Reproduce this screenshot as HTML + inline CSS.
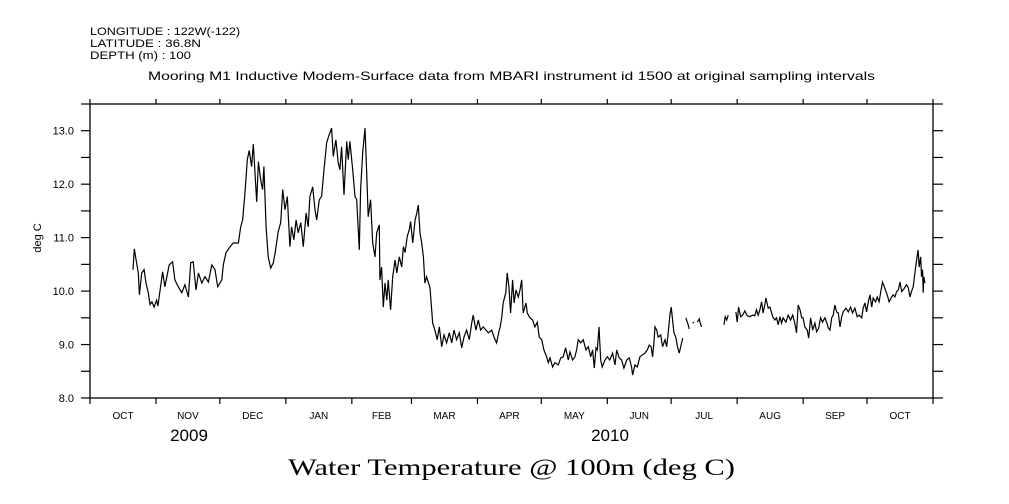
<!DOCTYPE html>
<html><head><meta charset="utf-8"><style>
body{margin:0;background:#fff;}
svg{display:block;font-family:"Liberation Sans",sans-serif;}
</style></head><body>
<svg id="chart" width="1009" height="504" viewBox="0 0 1009 504" xmlns="http://www.w3.org/2000/svg">
<rect width="1009" height="504" fill="#fff"/>
<g font-size="11" fill="#000">
<text x="90" y="35" textLength="150" lengthAdjust="spacingAndGlyphs">LONGITUDE : 122W(-122)</text>
<text x="90" y="47" textLength="111" lengthAdjust="spacingAndGlyphs">LATITUDE : 36.8N</text>
<text x="90" y="59" textLength="101" lengthAdjust="spacingAndGlyphs">DEPTH (m) : 100</text>
</g>
<text x="148" y="80" font-size="12" textLength="727" lengthAdjust="spacingAndGlyphs">Mooring M1 Inductive Modem-Surface data from MBARI instrument id 1500 at original sampling intervals</text>
<text x="0" y="0" font-size="11" text-anchor="middle" transform="translate(41,238) rotate(-90)">deg C</text>
<text x="189" y="441" font-size="17" text-anchor="middle">2009</text>
<text x="610" y="441" font-size="17" text-anchor="middle">2010</text>
<text x="288" y="475" font-size="23" textLength="447" lengthAdjust="spacingAndGlyphs" font-family="Liberation Serif, serif">Water Temperature @ 100m (deg C)</text>
<g id="axes"></g>
<g id="series"></g>
</svg>
<script>
const yTicks=[8.0,9.0,10.0,11.0,12.0,13.0];
const monthLabels=["OCT","NOV","DEC","JAN","FEB","MAR","APR","MAY","JUN","JUL","AUG","SEP","OCT"];
const monthStarts=[0,31,61,92,123,151,182,212,243,273,304,335,365,396];
const days=[20.2,20.8,21.9,22.7,23.2,24.3,25.4,26.3,27.4,28.2,29.1,30.1,31.3,31.9,34.1,35.2,37.2,38.8,39.9,41.5,43.1,44.6,46.2,47.3,48.5,49.8,50.9,52.5,54.0,55.6,57.2,58.7,60.0,61.9,62.6,63.9,65.8,67.3,69.7,70.8,71.7,72.8,73.9,74.8,75.9,76.7,77.5,78.3,79.1,80.2,81.1,81.7,82.7,83.7,84.9,86.1,87.0,88.4,89.6,90.5,91.6,92.7,93.9,94.7,95.8,96.8,97.8,99.0,100.2,101.5,102.5,103.3,104.6,105.7,106.5,107.7,108.8,109.9,111.2,112.4,113.5,114.3,115.5,116.6,117.4,118.2,119.3,120.6,121.3,122.1,123.4,124.5,125.3,126.5,127.1,128.1,129.2,130.0,130.7,131.8,132.8,133.9,134.7,135.9,136.2,137.0,137.8,138.6,139.4,140.1,141.2,142.2,143.3,144.1,145.3,146.4,147.2,148.0,149.0,150.0,150.6,151.6,152.7,153.5,154.2,155.0,155.8,156.6,157.3,158.1,159.7,161.0,162.0,163.1,164.1,165.2,166.3,167.5,168.8,169.9,171.0,172.2,173.5,174.6,175.7,176.9,178.2,179.3,180.0,181.3,182.4,183.5,184.7,186.0,187.1,188.7,189.8,191.0,192.2,192.6,193.4,194.1,195.3,196.0,196.8,197.6,198.5,199.2,200.1,201.2,202.0,202.8,203.5,204.8,205.4,206.7,207.9,209.0,210.1,211.0,212.2,213.2,214.5,215.3,216.1,217.3,218.4,220.0,221.1,222.3,223.4,224.7,225.5,226.7,227.8,228.6,229.4,230.5,231.7,233.0,234.1,235.2,236.1,236.9,237.7,238.3,239.1,239.9,240.6,241.9,243.0,244.2,245.5,246.6,247.4,248.6,249.7,250.8,252.1,253.3,254.4,254.9,256.0,257.1,258.3,259.6,260.7,261.8,262.7,263.6,264.3,264.9,265.4,266.2,266.9,268.1,269.0,270.1,270.9,271.6,272.4,273.0,273.7,274.3,275.2,276.0,276.8,277.5,278.4,279.2,279.9,281.0,281.5,282.3,283.1,283.7,284.5,285.3,286.2,286.5,287.3,292.0,297.8,298.4,299.1,299.8,301.5,303.4,304.0,304.7,305.6,306.6,307.6,308.7,310.0,311.3,312.3,313.1,313.9,314.7,315.5,316.2,317.0,317.5,318.6,319.4,320.7,321.7,322.5,323.3,324.1,324.9,325.6,326.9,328.0,329.1,330.1,331.1,331.9,332.7,333.5,334.3,335.0,335.8,336.9,337.6,338.5,339.5,340.5,341.3,342.3,343.2,344.1,345.2,346.0,346.8,347.6,348.4,349.1,349.9,350.7,351.5,352.3,353.1,353.8,355.1,356.2,357.3,358.2,359.3,360.4,361.3,362.5,363.2,364.0,364.8,365.6,366.4,367.2,367.9,369.0,369.8,370.7,371.4,372.3,373.1,373.9,374.5,375.4,376.6,377.3,378.1,378.9,379.7,380.5,381.3,382.3,383.6,384.4,385.2,385.9,386.7,387.5,388.3,389.0,389.5,390.2,390.6,391.1,391.4,391.7,392.2];
const temps=[10.40,10.79,10.53,10.34,9.93,10.34,10.40,10.15,9.97,9.75,9.80,9.70,9.83,9.72,10.36,10.08,10.49,10.55,10.21,10.08,9.97,10.12,9.89,10.53,10.55,10.02,10.34,10.15,10.27,10.17,10.49,10.40,10.08,10.21,10.49,10.72,10.83,10.90,10.90,11.20,11.33,11.84,12.46,12.63,12.33,12.75,12.21,11.67,12.42,12.08,11.90,12.33,11.20,10.64,10.43,10.53,10.72,11.11,11.28,11.90,11.52,11.77,10.83,11.20,10.96,11.33,11.09,11.28,10.83,11.46,11.20,11.77,11.95,11.52,11.33,11.71,11.77,12.27,12.78,12.93,13.05,12.52,12.83,12.40,12.27,12.70,11.80,12.80,12.46,12.80,12.27,11.77,11.71,10.77,11.90,12.59,13.05,12.21,11.39,11.71,10.90,10.64,11.09,11.24,10.21,10.45,9.70,10.15,9.83,10.21,9.65,10.27,10.58,10.34,10.64,10.45,10.83,10.72,11.02,11.15,11.30,10.90,11.33,11.46,11.61,11.09,10.90,10.64,10.15,10.27,10.06,9.40,9.27,9.09,9.33,8.96,9.18,9.03,9.22,9.03,9.27,9.09,9.22,8.94,9.14,9.27,9.09,9.40,9.55,9.27,9.46,9.27,9.33,9.27,9.22,9.27,9.14,9.03,9.27,9.31,9.50,9.78,9.97,10.34,10.08,9.59,10.21,9.78,10.02,9.89,10.02,10.21,9.59,9.78,9.59,9.50,9.46,9.33,9.42,9.14,9.09,8.90,8.77,8.66,8.75,8.58,8.66,8.62,8.75,8.77,8.94,8.71,8.86,8.71,8.77,8.90,9.09,9.03,9.09,8.90,8.96,8.77,8.90,8.56,8.94,8.90,9.33,8.71,8.58,8.71,8.77,8.71,8.84,8.62,8.90,8.75,8.71,8.56,8.71,8.75,8.58,8.43,8.62,8.58,8.77,8.81,8.84,8.90,8.99,8.96,8.77,9.03,9.33,9.27,9.14,9.18,8.96,9.09,8.96,9.22,9.55,9.70,9.46,9.22,9.14,8.96,8.84,8.96,9.12,null,9.50,9.37,9.29,null,9.40,9.42,null,9.42,9.48,9.42,9.33,null,9.37,9.52,9.46,9.55,null,9.61,9.42,9.70,9.52,9.55,9.63,9.54,9.52,9.55,9.54,9.65,9.55,9.65,9.80,9.59,9.74,9.87,9.68,9.70,9.52,9.46,9.50,9.37,9.52,9.40,9.50,9.42,9.55,9.46,9.55,9.40,9.22,9.74,9.65,9.50,9.50,9.33,9.27,9.12,9.50,9.27,9.40,9.24,9.31,9.50,9.42,9.50,9.42,9.31,9.27,9.50,9.55,9.74,9.61,9.59,9.33,9.52,9.61,9.68,9.61,9.70,9.59,9.68,9.52,9.55,9.50,9.68,9.78,9.61,9.80,9.93,9.70,9.87,9.80,9.89,9.80,9.97,10.17,10.08,9.99,9.93,9.80,9.89,9.93,9.89,9.99,10.02,10.17,9.99,10.04,10.12,10.06,9.89,9.99,10.08,10.34,10.58,10.77,10.45,10.64,10.27,10.40,9.97,10.27,10.15];

const L=90,R=933,T=104,B=398,yMin=8.0,yMax=13.5,dMax=396;
function xScale(d){return L+(R-L)*d/dMax;}
function yScale(v){return B-(B-T)*(v-yMin)/(yMax-yMin);}
const NS="http://www.w3.org/2000/svg";
const axes=document.getElementById('axes');
function mk(tag,attrs,parent){const e=document.createElementNS(NS,tag);for(const k in attrs)e.setAttribute(k,attrs[k]);parent.appendChild(e);return e;}
const frame=mk('rect',{x:L,y:T,width:R-L,height:B-T,fill:'none',stroke:'#000','stroke-width':1.3},axes);


for(let v=yMin;v<=yMax+0.001;v+=0.5){
  const y=yScale(v);
  const t1=mk('line',{x1:L-9,x2:L,y1:y,y2:y,stroke:'#000','stroke-width':1.2},axes);
  
  
  const t2=mk('line',{x1:R,x2:R+10,y1:y,y2:y,stroke:'#000','stroke-width':1.2},axes);
  
  
}
yTicks.forEach(v=>{
  const t=mk('text',{x:L-16,y:yScale(v)+4,'font-size':11,'text-anchor':'end'},axes);
  t.textContent=v.toFixed(1);
  
  
});
monthStarts.forEach(d=>{
  const x=xScale(d);
  const a=mk('line',{x1:x,x2:x,y1:B,y2:B+6,stroke:'#000','stroke-width':1.2},axes);
  
  
  const b=mk('line',{x1:x,x2:x,y1:T-5,y2:T,stroke:'#000','stroke-width':1.2},axes);
  
  
});
monthLabels.forEach((m,i)=>{
  const t=mk('text',{x:xScale((monthStarts[i]+monthStarts[i+1])/2),y:419,'font-size':10,'text-anchor':'middle'},axes);
  t.textContent=m;
  
  
});
const series=document.getElementById('series');
let dstr='',pen=false;
for(let i=0;i<days.length;i++){
  if(temps[i]===null){pen=false;continue;}
  dstr+=(pen?'L':'M')+xScale(days[i]).toFixed(1)+' '+yScale(temps[i]).toFixed(1)+' ';
  pen=true;
}
const p=mk('path',{d:dstr,fill:'none',stroke:'#000','stroke-width':1.2,'stroke-linejoin':'miter'},series);


</script>
</body></html>
